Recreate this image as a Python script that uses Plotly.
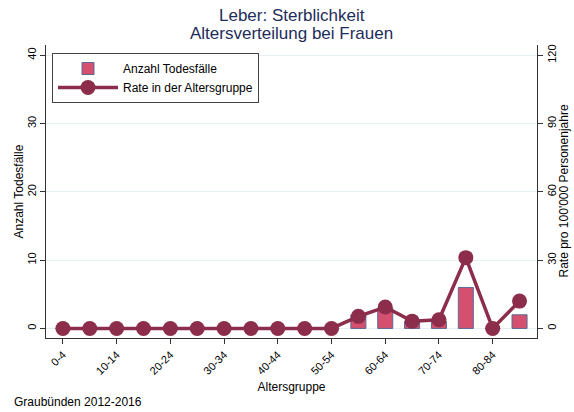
import plotly.graph_objects as go

age_groups = ["0-4", "5-9", "10-14", "15-19", "20-24", "25-29", "30-34", "35-39",
              "40-44", "45-49", "50-54", "55-59", "60-64", "65-69", "70-74", "75-79",
              "80-84", "85+"]
deaths = [0, 0, 0, 0, 0, 0, 0, 0, 0, 0, 0, 2, 3, 1, 1, 6, 0, 2]
rates = [0, 0, 0, 0, 0, 0, 0, 0, 0, 0, 0, 5.3, 9.4, 3.2, 3.8, 31.1, 0, 12.0]
left_ticks = [0, 10, 20, 30, 40]
right_ticks = [0, 30, 60, 90, 120]
x_tick_labels = age_groups[::2][:9]

FONT = "Liberation Sans, Arial, sans-serif"
W, H = 574, 412
L, T = 46, 45
R, B = W - 537, H - 338
PW, PH = W - L - R, H - T - B


def py(ref_y):
    return (H - B - ref_y) / PH


def px(ref_x):
    return (ref_x - L) / PW


fig = go.Figure()
fig.add_trace(go.Bar(
    x=age_groups, y=deaths, name="Anzahl Todesfälle",
    marker=dict(color="#d4506e", line=dict(color="#5a6a96", width=1)),
    width=0.56, yaxis="y",
))
fig.add_trace(go.Scatter(
    x=age_groups, y=rates, name="Rate in der Altersgruppe", mode="lines+markers",
    line=dict(color="#8b2d4b", width=3.5),
    marker=dict(color="#8b2d4b", size=15),
    yaxis="y2",
))

fig.update_layout(
    width=W, height=H,
    margin=dict(l=L, r=R, t=T, b=B, autoexpand=False),
    paper_bgcolor="white", plot_bgcolor="white",
    font=dict(family=FONT, size=12, color="black"),
    showlegend=True,
    legend=dict(x=px(52), y=py(53), xanchor="left", yanchor="top",
                bgcolor="white", bordercolor="#444", borderwidth=1,
                font=dict(size=12), tracegroupgap=2, itemwidth=60),
    xaxis=dict(
        range=[-0.63, 17.65], tickmode="array", tickvals=x_tick_labels,
        ticktext=x_tick_labels, tickangle=-45, ticks="outside", ticklen=5,
        tickcolor="#333", showline=True, linecolor="#333", linewidth=1,
        showgrid=False, zeroline=False, automargin=False,
        title=dict(text="Altersgruppe", font=dict(size=12), standoff=6),
        tickfont=dict(size=11),
    ),
    yaxis=dict(
        range=[-1.4, 41.5], tickvals=left_ticks, tickangle=-90,
        ticks="outside", ticklen=5, tickcolor="#333",
        showline=True, linecolor="#333", linewidth=1,
        showgrid=True, gridcolor="#e6eff1", gridwidth=1, zeroline=False,
        automargin=False, tickfont=dict(size=11),
    ),
    yaxis2=dict(
        range=[-4.2, 124.5], tickvals=right_ticks, tickangle=-90,
        overlaying="y", side="right",
        ticks="outside", ticklen=5, tickcolor="#333",
        showline=True, linecolor="#333", linewidth=1,
        showgrid=False, zeroline=False, automargin=False,
        tickfont=dict(size=11),
    ),
)

fig.add_annotation(text="Anzahl Todesfälle", xref="paper", yref="paper",
                   x=px(18), y=0.5, xanchor="center", yanchor="middle", textangle=-90,
                   showarrow=False, font=dict(size=12, color="black"))
fig.add_annotation(text="Rate pro 100'000 Personenjahre", xref="paper", yref="paper",
                   x=px(563), y=0.5, xanchor="center", yanchor="middle", textangle=-90,
                   showarrow=False, font=dict(size=12, color="black"))
fig.add_annotation(text="Leber: Sterblichkeit", xref="paper", yref="paper",
                   x=0.5, y=py(15), xanchor="center", yanchor="middle",
                   showarrow=False, font=dict(size=17, color="#1e2d5a"))
fig.add_annotation(text="Altersverteilung bei Frauen", xref="paper", yref="paper",
                   x=0.5, y=py(33), xanchor="center", yanchor="middle",
                   showarrow=False, font=dict(size=17, color="#1e2d5a"))
fig.add_annotation(text="Graubünden 2012-2016", xref="paper", yref="paper",
                   x=px(12), y=py(402), xanchor="left", yanchor="middle",
                   showarrow=False, font=dict(size=12, color="black"))

fig.write_html("out.html", config={"displayModeBar": False},
               post_script="document.body.style.margin='0';")
